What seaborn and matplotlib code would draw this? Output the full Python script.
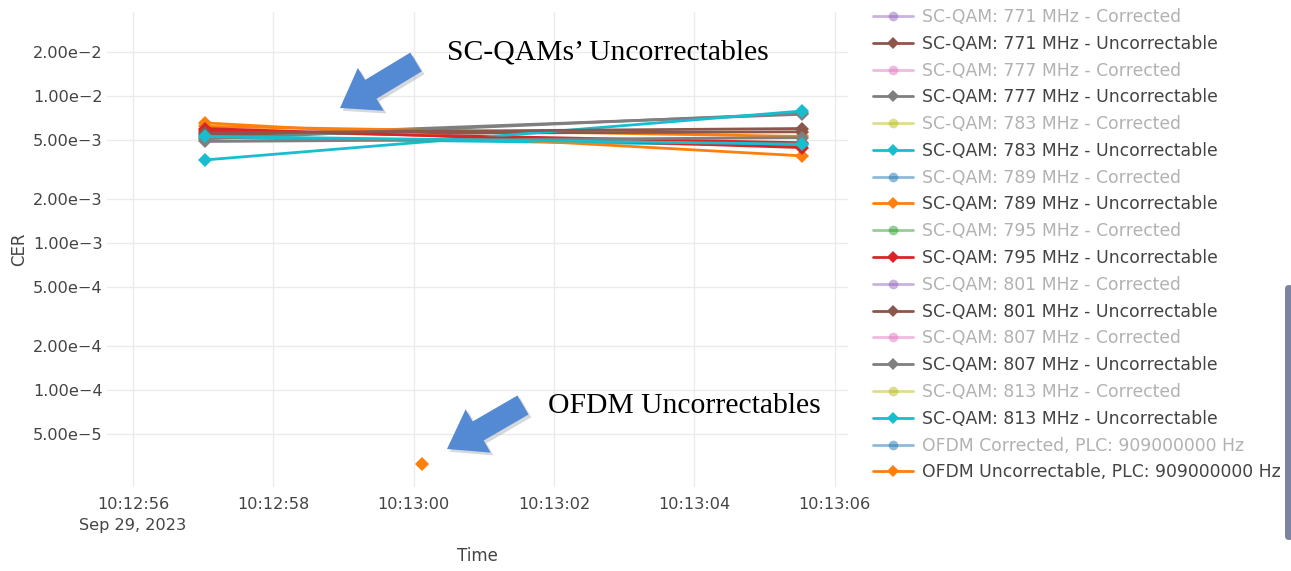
import numpy as np
import pandas as pd
import matplotlib
matplotlib.use("Agg")
import matplotlib.pyplot as plt
import matplotlib.dates as mdates
from matplotlib.lines import Line2D
from matplotlib.patches import FancyArrow, FancyBboxPatch
from matplotlib.transforms import IdentityTransform
from matplotlib.ticker import FixedLocator, FixedFormatter, NullLocator
import matplotlib.patheffects as pe
import seaborn as sns

# ---------------- data ----------------
sample_times = ["2023-09-29 10:12:57.03", "2023-09-29 10:13:05.54"]
ofdm_time = ["2023-09-29 10:13:00.12"]

scqam_channels = ["771", "777", "783", "789", "795", "801", "807", "813"]
scqam_first = [5.5e-3, 5.1e-3, 3.67e-3, 6.55e-3, 6.0e-3, 5.6e-3, 4.9e-3, 5.3e-3]
scqam_last = [5.7e-3, 7.6e-3, 7.9e-3, 3.91e-3, 4.45e-3, 6.0e-3, 5.2e-3, 4.7e-3]

# channels whose legend entries are scrolled out of view
scrolled_channels = ["747", "753", "759", "765"]
scrolled_first = [5.3e-3, 5.2e-3, 6.2e-3, 5.8e-3]
scrolled_last = [7.5e-3, 4.6e-3, 5.3e-3, 4.8e-3]

ofdm_uncorr = [3.14e-5]

ytick_values = [5e-5, 1e-4, 2e-4, 5e-4, 1e-3, 2e-3, 5e-3, 1e-2, 2e-2]
ytick_labels = ["5.00e\u22125", "1.00e\u22124", "2.00e\u22124", "5.00e\u22124",
                "1.00e\u22123", "2.00e\u22123", "5.00e\u22123", "1.00e\u22122",
                "2.00e\u22122"]
xtick_times = ["2023-09-29 10:12:56", "2023-09-29 10:12:58", "2023-09-29 10:13:00",
               "2023-09-29 10:13:02", "2023-09-29 10:13:04", "2023-09-29 10:13:06"]
xtick_labels = ["10:12:56\nSep 29, 2023", "10:12:58", "10:13:00", "10:13:02",
                "10:13:04", "10:13:06"]
x_range = ["2023-09-29 10:12:55.63", "2023-09-29 10:13:06.19"]
y_range = [2.19e-5, 3.72e-2]

tab = sns.color_palette("tab10").as_hex()
# colour index per channel follows the legend's cycling
uncorr_color_idx = {"747": 7, "753": 9, "759": 1, "765": 3, "771": 5, "777": 7,
                    "783": 9, "789": 1, "795": 3, "801": 5, "807": 7, "813": 9}
corr_color_idx = {"771": 4, "777": 6, "783": 8, "789": 0, "795": 2, "801": 4,
                  "807": 6, "813": 8}

# ---------------- long table ----------------
rows = []
palette = {}
order = []
for ch, a, b in zip(scrolled_channels + scqam_channels,
                    scrolled_first + scqam_first, scrolled_last + scqam_last):
    name = f"SC-QAM: {ch} MHz - Uncorrectable"
    rows.append((pd.Timestamp(sample_times[0]), a, name))
    rows.append((pd.Timestamp(sample_times[1]), b, name))
    palette[name] = tab[uncorr_color_idx[ch]]
    order.append(name)
ofdm_name = "OFDM Uncorrectable, PLC: 909000000 Hz"
rows.append((pd.Timestamp(ofdm_time[0]), ofdm_uncorr[0], ofdm_name))
palette[ofdm_name] = tab[1]
order.append(ofdm_name)
df = pd.DataFrame(rows, columns=["Time", "CER", "series"])

# ---------------- figure ----------------
sns.set_theme(style="white")
plt.rcParams["font.family"] = ["DejaVu Sans"]
W, H = 1291, 571
fig = plt.figure(figsize=(W / 100, H / 100), dpi=100)
ax = fig.add_axes([107 / W, 1 - 487 / H, (848 - 107) / W, (487 - 12) / H])

sns.lineplot(data=df, x="Time", y="CER", hue="series", hue_order=order,
             palette=palette, marker="D", markersize=7, markeredgewidth=0,
             linewidth=2, legend=False, ax=ax, sort=True, estimator=None)

ax.set_yscale("log")
ax.set_ylim(*y_range)
ax.set_xlim(pd.Timestamp(x_range[0]), pd.Timestamp(x_range[1]))
ax.yaxis.set_major_locator(FixedLocator(ytick_values))
ax.yaxis.set_major_formatter(FixedFormatter(ytick_labels))
ax.yaxis.set_minor_locator(NullLocator())
ax.xaxis.set_major_locator(FixedLocator([mdates.date2num(pd.Timestamp(t)) for t in xtick_times]))
ax.xaxis.set_major_formatter(FixedFormatter(xtick_labels))
ax.grid(True, color="#ebebeb", linewidth=1)
ax.set_axisbelow(True)
for s in ax.spines.values():
    s.set_visible(False)
ax.tick_params(axis="both", length=0, colors="#444444", labelsize=11.6)
ax.tick_params(axis="y", pad=3)
ax.tick_params(axis="x", pad=7)
for lab in ax.get_xticklabels():
    lab.set_linespacing(1.5)
ax.set_xlabel("Time", color="#444444", fontsize=12, labelpad=10)
ax.set_ylabel("CER", color="#444444", fontsize=12, labelpad=4)

# ---------------- legend ----------------
handles, labels, colors = [], [], []
for ch in scqam_channels:
    c = tab[corr_color_idx[ch]]
    handles.append(Line2D([], [], color=c, alpha=0.5, lw=2, marker="o", markersize=7,
                          markeredgewidth=0))
    labels.append(f"SC-QAM: {ch} MHz - Corrected")
    colors.append("#b2b2b2")
    name = f"SC-QAM: {ch} MHz - Uncorrectable"
    handles.append(Line2D([], [], color=palette[name], lw=2, marker="D", markersize=6,
                          markeredgewidth=0))
    labels.append(name)
    colors.append("#444444")
handles.append(Line2D([], [], color=tab[0], alpha=0.5, lw=2, marker="o", markersize=7,
                      markeredgewidth=0))
labels.append("OFDM Corrected, PLC: 909000000 Hz")
colors.append("#b2b2b2")
handles.append(Line2D([], [], color=tab[1], lw=2, marker="D", markersize=6,
                      markeredgewidth=0))
labels.append(ofdm_name)
colors.append("#444444")

leg = fig.legend(handles, labels, loc="upper left", bbox_to_anchor=(873 / W, 1 - 8 / H),
                 frameon=False, fontsize=12.4, handlelength=2.33, handletextpad=0.52,
                 labelspacing=0.51, borderpad=0, borderaxespad=0)
for txt, c in zip(leg.get_texts(), colors):
    txt.set_color(c)

# scrollbar of the legend
fig.patches.append(FancyBboxPatch((1285, H - 540), 8, 255, boxstyle="round,pad=0,rounding_size=4",
                                  transform=IdentityTransform(), facecolor="#7b85a3",
                                  edgecolor="none", figure=fig))

# ---------------- annotations ----------------
arrow_color = "#5489d4"
shadow = [pe.SimplePatchShadow(offset=(2, -2), alpha=0.18), pe.Normal()]
for (x0, y0, x1, y1) in [(416, 62, 340, 108), (523, 405, 447, 449)]:
    arr = FancyArrow(x0, H - y0, x1 - x0, -(y1 - y0), width=22, head_width=50,
                     head_length=36, length_includes_head=True,
                     transform=IdentityTransform(), facecolor=arrow_color,
                     edgecolor="none", figure=fig)
    arr.set_path_effects(shadow)
    fig.patches.append(arr)

fig.text(447 / W, 1 - 53 / H, "SC-QAMs\u2019 Uncorrectables", family="Liberation Serif",
         fontsize=21.3, color="black", va="center", ha="left")
fig.text(548 / W, 1 - 406 / H, "OFDM Uncorrectables", family="Liberation Serif",
         fontsize=21.3, color="black", va="center", ha="left")

fig.savefig("out.png", dpi=100, facecolor="white")
